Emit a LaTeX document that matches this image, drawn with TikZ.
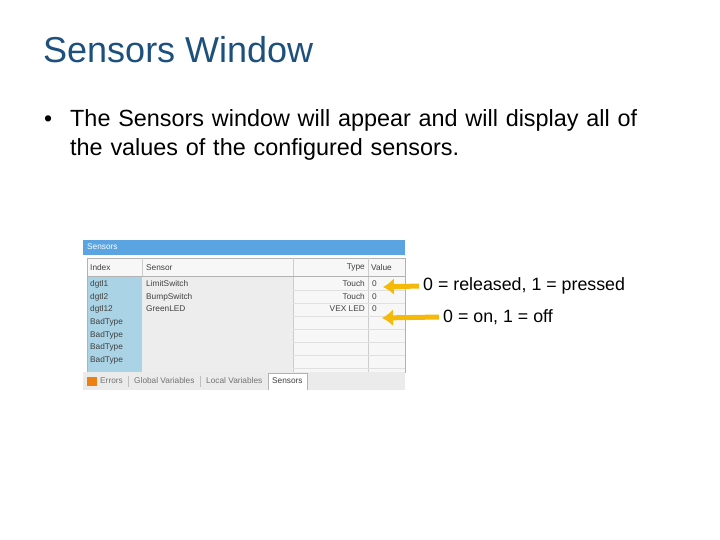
\documentclass[tikz,border=0pt]{standalone}
\usepackage{fontspec}
\setmainfont{Liberation Sans}
\usetikzlibrary{arrows.meta}
\definecolor{ttl}{RGB}{30,80,125}
\definecolor{bar}{RGB}{90,165,225}
\definecolor{idx}{RGB}{170,212,230}
\definecolor{arrc}{RGB}{245,185,10}
\begin{document}
\begin{tikzpicture}[x=1pt,y=-1pt,
  cell/.style={anchor=west,font=\fontsize{8.3}{9}\selectfont,text=black!75,inner sep=0pt},
  lbl/.style={anchor=west,font=\fontsize{17.8}{20}\selectfont,inner sep=0pt},
  arr/.style={line width=5pt,draw=arrc,-{Latex[length=11pt,width=17pt]}}]
\useasboundingbox (0,0) rectangle (720,540);
\node[anchor=west,inner sep=0pt,font=\fontsize{36}{40}\selectfont,text=ttl] (title) at (43,50) {Sensors Window};
\node[anchor=west,inner sep=0pt,font=\fontsize{23}{26}\selectfont] (bt) at (44,121) {\textbullet};
\node[anchor=west,inner sep=0pt,font=\fontsize{23.4}{29}\selectfont,text width=630pt,align=left] (bul) at (70,135) {The Sensors window will appear and will display all of\\the values of the configured sensors.};
% window
\fill[white] (83,240) rectangle (405,390);
\fill[bar] (83,240) rectangle (405,255);
\node[cell,text=white] (wt) at (87,247) {Sensors};
\fill[black!3] (87,258) rectangle (405,372);
\draw[black!30] (87,258) rectangle (405,372);
\fill[idx] (88,277) rectangle (142,372);
\fill[black!7] (142,277) rectangle (293,372);
\draw[black!20] (142,258)--(142,276) (293,258)--(293,372) (368,258)--(368,372);
\draw[black!30] (87,276.5)--(405,276.5);
\foreach \yy in {290,303,316,329,342,355,368} \draw[black!12] (293,\yy)--(405,\yy);
\node[cell] (h1) at (90,268) {Index};
\node[cell] (h2) at (146,268) {Sensor};
\node[cell,anchor=east] (h3) at (365,268) {Type};
\node[cell] (h4) at (371,268) {Value};
\node[cell] (r1a) at (90,284) {dgtl1};
\node[cell] (r1b) at (146,284) {LimitSwitch};
\node[cell,anchor=east] (r1c) at (365,284) {Touch};
\node[cell] (r1d) at (372,284) {0};
\node[cell] (r2a) at (90,297) {dgtl2};
\node[cell] (r2b) at (146,297) {BumpSwitch};
\node[cell,anchor=east] (r2c) at (365,297) {Touch};
\node[cell] (r2d) at (372,297) {0};
\node[cell] (r3a) at (90,309) {dgtl12};
\node[cell] (r3b) at (146,309) {GreenLED};
\node[cell,anchor=east] (r3c) at (365,309) {VEX LED};
\node[cell] (r3d) at (372,309) {0};
\node[cell] (r4a) at (90,322) {BadType};
\node[cell] (r5a) at (90,335) {BadType};
\node[cell] (r6a) at (90,347) {BadType};
\node[cell] (r7a) at (90,360) {BadType};
% tabs
\fill[black!8] (83,372) rectangle (405,390);
\fill[white] (268,373) rectangle (307,390);
\draw[black!30] (268,390)--(268,373)--(307,373)--(307,390);
\draw[black!25] (128,376)--(128,387) (200,376)--(200,387);
\fill[orange!70!brown] (87,377) rectangle (97,386);
\node[cell,text=black!55] (t1) at (100,381) {Errors};
\node[cell,text=black!55] (t2) at (134,381) {Global Variables};
\node[cell,text=black!55] (t3) at (206,381) {Local Variables};
\node[cell] (t4) at (272,381) {Sensors};
% labels & arrows
\node[lbl] (l1) at (423,286) {0 = released, 1 = pressed};
\node[lbl] (l2) at (443,317) {0 = on, 1 = off};
\coordinate (a1) at (383,287);
\coordinate (a2) at (382,318);
\draw[arr] ([xshift=-4pt]l1.west) -- (a1);
\draw[arr] ([xshift=-4pt]l2.west) -- (a2);
\end{tikzpicture}
\end{document}
